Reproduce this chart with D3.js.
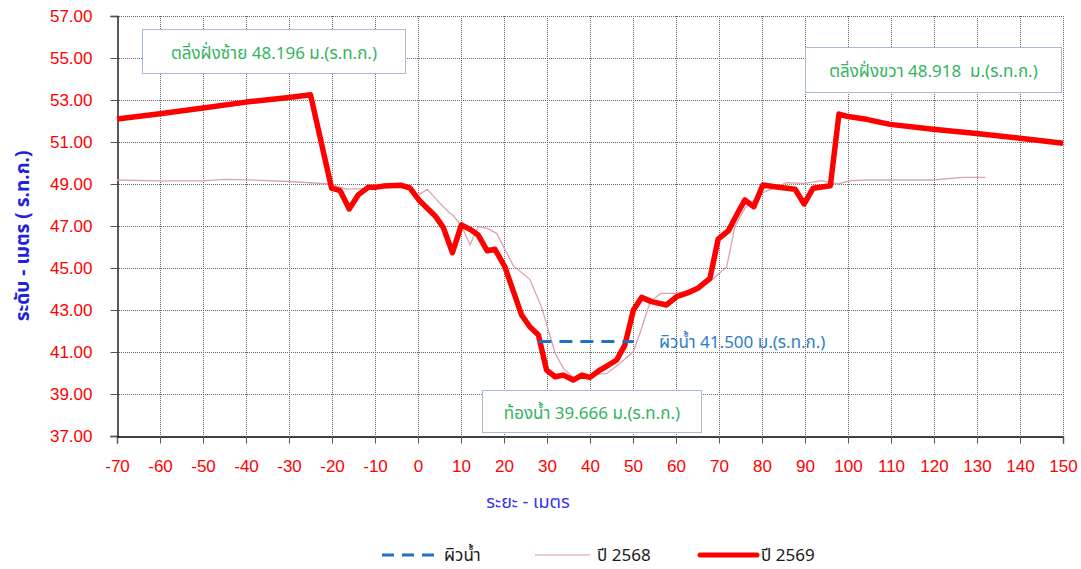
<!DOCTYPE html>
<html>
<head>
<meta charset="utf-8">
<script src="https://cdn.jsdelivr.net/npm/d3@7"></script>
<style>
  body { margin: 0; background: #fff; }
  svg { display: block; font-family: "Liberation Sans", Arial, sans-serif; }
  .thai { font-family: Tahoma, "Noto Sans Thai", "Liberation Sans", sans-serif; white-space: pre; }
</style>
</head>
<body>
<div id="chart"></div>
<script>
// distance (m) / level (m. MSL) pairs
const dist2569 = [-70, -60, -50, -40, -30, -25, -20.1, -18.1, -16, -13.9, -11.6, -10, -8.1, -4, -1.9, 0.2, 4.0, 5.9, 8.0, 10.1, 12.1, 14.0, 16.1, 17.9, 20.2, 24.1, 26.0, 28.0, 29.9, 31.9, 33.8, 36.1, 38.1, 40.0, 42.3, 44.3, 46.2, 48.1, 50.1, 52.0, 54.3, 57.8, 60.1, 62.5, 65.2, 67.9, 69.8, 72.2, 74.1, 76.0, 78.1, 80.2, 83.4, 87.7, 89.8, 91.9, 95.9, 97.9, 100.0, 104.3, 109.8, 119.8, 129.9, 140, 150];
const level2569 = [52.10, 52.35, 52.62, 52.90, 53.12, 53.25, 48.80, 48.68, 47.81, 48.48, 48.84, 48.84, 48.90, 48.94, 48.82, 48.24, 47.48, 46.92, 45.73, 47.05, 46.84, 46.57, 45.82, 45.89, 45.06, 42.76, 42.20, 41.81, 40.14, 39.82, 39.90, 39.666, 39.90, 39.79, 40.14, 40.38, 40.62, 41.33, 43.00, 43.60, 43.40, 43.24, 43.63, 43.80, 44.05, 44.51, 46.37, 46.78, 47.52, 48.24, 47.92, 48.95, 48.86, 48.75, 48.05, 48.80, 48.918, 52.33, 52.21, 52.08, 51.84, 51.61, 51.41, 51.18, 50.94];

const dist2568 = [-70, -60, -50, -45, -40, -30, -20.5, -16.6, -9.6, -4.2, 0.1, 2.2, 5.1, 7.3, 8.2, 10.2, 12.1, 14.0, 16.0, 18.3, 22.2, 26.0, 28.8, 31.9, 33.8, 36.1, 40.0, 43.9, 47.0, 50.1, 52.0, 54.0, 56.5, 60.1, 65.0, 67.9, 71.8, 73.7, 76.0, 79.9, 85.7, 90.0, 93.9, 97.7, 100.5, 104.3, 119.8, 126.7, 131.9];
const level2568 = [49.19, 49.15, 49.15, 49.22, 49.20, 49.12, 49.00, 48.76, 48.79, 49.00, 48.48, 48.75, 48.08, 47.63, 47.50, 46.97, 46.10, 46.97, 46.89, 46.65, 45.10, 44.46, 43.10, 40.94, 40.22, 39.79, 39.90, 39.98, 40.46, 41.02, 42.13, 43.40, 43.79, 43.79, 44.00, 44.35, 45.06, 46.97, 47.84, 48.56, 49.06, 49.03, 49.16, 49.00, 49.16, 49.19, 49.19, 49.32, 49.32];

const waterDist = [28, 50.2];
const waterLevel = 41.5;

const xTicks = d3.range(-70, 151, 10);
const yTicks = d3.range(37, 57.01, 2);

const seriesNames = ['ผิวน้ำ', 'ปี 2568', 'ปี 2569'];
const labelLeftBank = 'ตลิ่งฝั่งซ้าย 48.196 ม.(ร.ท.ก.)';
const labelRightBank = 'ตลิ่งฝั่งขวา 48.918  ม.(ร.ท.ก.)';
const labelBed = 'ท้องน้ำ 39.666 ม.(ร.ท.ก.)';
const labelWater = 'ผิวน้ำ 41.500 ม.(ร.ท.ก.)';

const width = 1081, height = 569;
const margin = { top: 16, right: 18, bottom: 133, left: 117 };

const svg = d3.select('#chart').append('svg')
  .attr('width', width)
  .attr('height', height);

const x = d3.scaleLinear().domain([-70, 150]).range([margin.left, width - margin.right]);
const y = d3.scaleLinear().domain([37, 57]).range([height - margin.bottom, margin.top]);

// gridlines
const grid = svg.append('g')
  .attr('stroke', '#666')
  .attr('stroke-width', 1)
  .attr('stroke-dasharray', '1,1')
  .attr('shape-rendering', 'crispEdges');

grid.selectAll('line.v')
  .data(xTicks.slice(1))
  .enter().append('line')
  .attr('x1', d => Math.round(x(d)) + 0.5).attr('x2', d => Math.round(x(d)) + 0.5)
  .attr('y1', y(57)).attr('y2', y(37));

grid.selectAll('line.h')
  .data(yTicks.slice(1))
  .enter().append('line')
  .attr('x1', x(-70)).attr('x2', x(150))
  .attr('y1', d => Math.round(y(d)) + 0.5).attr('y2', d => Math.round(y(d)) + 0.5);

// axes
const xAxis = d3.axisBottom(x).tickValues(xTicks).tickSize(7).tickPadding(16).tickFormat(d => String(d));
const yAxis = d3.axisLeft(y).tickValues(yTicks).tickSize(7).tickPadding(18).tickFormat(d3.format('.2f'));

const gx = svg.append('g')
  .attr('transform', `translate(0,${Math.round(y(37)) + 0.5})`)
  .call(xAxis);
const gy = svg.append('g')
  .attr('transform', `translate(${Math.round(x(-70)) + 0.5},0)`)
  .call(yAxis);

[gx, gy].forEach(g => {
  g.select('.domain').attr('stroke', '#000').attr('stroke-width', 1.3);
  g.selectAll('.tick line').attr('stroke', '#555');
  g.selectAll('.tick text')
    .attr('fill', '#ff0000')
    .attr('font-size', '17px')
    .attr('font-family', '"Liberation Sans", Arial, sans-serif');
});

// axis titles
svg.append('text')
  .attr('class', 'thai')
  .attr('x', (x(-70) + x(150)) / 2 - 62)
  .attr('y', 508)
  .attr('text-anchor', 'middle')
  .attr('fill', '#3434ee')
  .attr('font-size', '18px')
  .text('ระยะ - เมตร');

svg.append('text')
  .attr('class', 'thai')
  .attr('transform', 'translate(29,236) rotate(-90)')
  .attr('text-anchor', 'middle')
  .attr('fill', '#2222dd')
  .attr('font-size', '19px')
  .attr('font-weight', 'bold')
  .text('ระดับ - เมตร ( ร.ท.ก.)');

// series
const line = d3.line().x(d => x(d[0])).y(d => y(d[1]));

svg.append('path')
  .datum(dist2568.map((d, i) => [d, level2568[i]]))
  .attr('fill', 'none')
  .attr('stroke', '#d9a3b4')
  .attr('stroke-width', 1.3)
  .attr('d', line);

svg.append('path')
  .datum(dist2569.map((d, i) => [d, level2569[i]]))
  .attr('fill', 'none')
  .attr('stroke', '#ff0000')
  .attr('stroke-width', 5.5)
  .attr('stroke-linejoin', 'round')
  .attr('d', line);

svg.append('path')
  .datum(waterDist.map(d => [d, waterLevel]))
  .attr('fill', 'none')
  .attr('stroke', '#1f70c1')
  .attr('stroke-width', 3)
  .attr('stroke-dasharray', '13,8')
  .attr('d', line);

// water label
svg.append('text')
  .attr('class', 'thai')
  .attr('x', 659)
  .attr('y', y(waterLevel) + 6)
  .attr('fill', '#2e7dc6')
  .attr('font-size', '17px')
  .text(labelWater);

// annotation boxes
const boxes = [
  { text: labelLeftBank, x0: 142, y0: 29, w: 263, h: 44 },
  { text: labelRightBank, x0: 805, y0: 47, w: 256, h: 45 },
  { text: labelBed, x0: 482, y0: 390, w: 219, h: 42 }
];

const box = svg.selectAll('g.note')
  .data(boxes)
  .enter().append('g')
  .attr('transform', d => `translate(${d.x0 + 0.5},${d.y0 + 0.5})`);

box.append('rect')
  .attr('width', d => d.w)
  .attr('height', d => d.h)
  .attr('fill', '#fff')
  .attr('stroke', '#a8bbd6')
  .attr('stroke-width', 1);

box.append('text')
  .attr('class', 'thai')
  .attr('x', d => d.w / 2)
  .attr('y', d => d.h / 2 + 7)
  .attr('text-anchor', 'middle')
  .attr('fill', '#33b35f')
  .attr('font-size', '17px')
  .text(d => d.text);

// legend
const legend = svg.append('g').attr('transform', 'translate(0,555)');
const legendItems = [
  { name: seriesNames[0], x0: 382, x1: 440, stroke: '#1f70c1', w: 3, dash: '12,8', cap: 'butt' },
  { name: seriesNames[1], x0: 535, x1: 590, stroke: '#e6b7c5', w: 1.5, dash: null, cap: 'butt' },
  { name: seriesNames[2], x0: 700, x1: 757, stroke: '#ff0000', w: 5, dash: null, cap: 'round' }
];

legend.selectAll('line')
  .data(legendItems)
  .enter().append('line')
  .attr('x1', d => d.x0).attr('x2', d => d.x1)
  .attr('stroke', d => d.stroke)
  .attr('stroke-width', d => d.w)
  .attr('stroke-dasharray', d => d.dash)
  .attr('stroke-linecap', d => d.cap);

legend.selectAll('text')
  .data(legendItems)
  .enter().append('text')
  .attr('class', 'thai')
  .attr('x', (d, i) => d.x1 + (i === 1 ? 7 : 4))
  .attr('y', 6)
  .attr('fill', '#1a1a1a')
  .attr('font-size', '17px')
  .text(d => d.name);
</script>
</body>
</html>
